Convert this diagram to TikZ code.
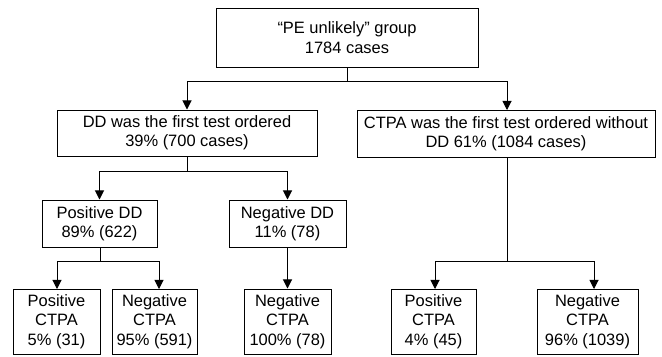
\documentclass[tikz,border=0pt]{standalone}
\usepackage{fontspec}
\setmainfont{Liberation Sans}
\usepackage{tikz}
\usetikzlibrary{arrows.meta, positioning}

\begin{document}
\begin{tikzpicture}[x=0.025cm, y=-0.025cm,
	font=\fontsize{11.7}{13.8}\selectfont,
	box/.style={draw, line width=0.7pt, inner sep=0pt, align=center},
	link/.style={line width=0.7pt},
	arr/.style={link, -{Triangle[length=6.5pt, width=6.5pt]}}]
	\useasboundingbox (0,0) rectangle (662,356);
	% first level
	\node[box, minimum width=262*0.025cm, minimum height=59*0.025cm] (top) at (347,37.5)
		{``PE unlikely'' group\\1784 cases};
	\node[box, minimum width=260*0.025cm, minimum height=46*0.025cm] (dd) at (187,133)
		{DD was the first test ordered\\39\% (700 cases)};
	\node[box, minimum width=298*0.025cm, minimum height=47*0.025cm] (ctpa) at (506,133.5)
		{CTPA was the first test ordered without\\DD 61\% (1084 cases)};
	% D-dimer result
	\node[box, minimum width=115*0.025cm, minimum height=47*0.025cm] (posdd) at (99.5,223.5)
		{Positive DD\\89\% (622)};
	\node[box, minimum width=117*0.025cm, minimum height=47*0.025cm] (negdd) at (287.5,223.5)
		{Negative DD\\11\% (78)};
	% CTPA result
	\node[box, minimum width=87*0.025cm, minimum height=65*0.025cm] (posctpaA) at (56.5,321.5)
		{Positive\\CTPA\\5\% (31)};
	\node[box, minimum width=85*0.025cm, minimum height=65*0.025cm] (negctpaA) at (154.5,321.5)
		{Negative\\CTPA\\95\% (591)};
	\node[box, minimum width=87*0.025cm, minimum height=65*0.025cm] (negctpaB) at (287.5,321.5)
		{Negative\\CTPA\\100\% (78)};
	\node[box, minimum width=85*0.025cm, minimum height=65*0.025cm] (posctpaC) at (433.5,321.5)
		{Positive\\CTPA\\4\% (45)};
	\node[box, minimum width=101*0.025cm, minimum height=65*0.025cm] (negctpaC) at (587.5,321.5)
		{Negative\\CTPA\\96\% (1039)};
	% connectors
	\coordinate (jtop) at (347,81);
	\coordinate (jdd) at (187,171);
	\coordinate (jpos) at (100,261);
	\coordinate (jctpa) at (507,261);
	\draw[link] (top) -- (jtop);
	\draw[arr] (jtop) -| (dd);
	\draw[arr] (jtop) -| (507,110);
	\draw[link] (ctpa.south -| jctpa) -- (jctpa);
	\draw[link] (dd) -- (jdd);
	\draw[arr] (jdd) -| (posdd);
	\draw[arr] (jdd) -| (negdd);
	\draw[link] (posdd.south -| jpos) -- (jpos);
	\draw[arr] (jpos) -| (57,289);
	\draw[arr] (jpos) -| (159,289);
	\draw[arr] (negdd) -- (negctpaB);
	\draw[arr] (jctpa) -| (435,289);
	\draw[arr] (jctpa) -| (594,289);
\end{tikzpicture}
\end{document}
